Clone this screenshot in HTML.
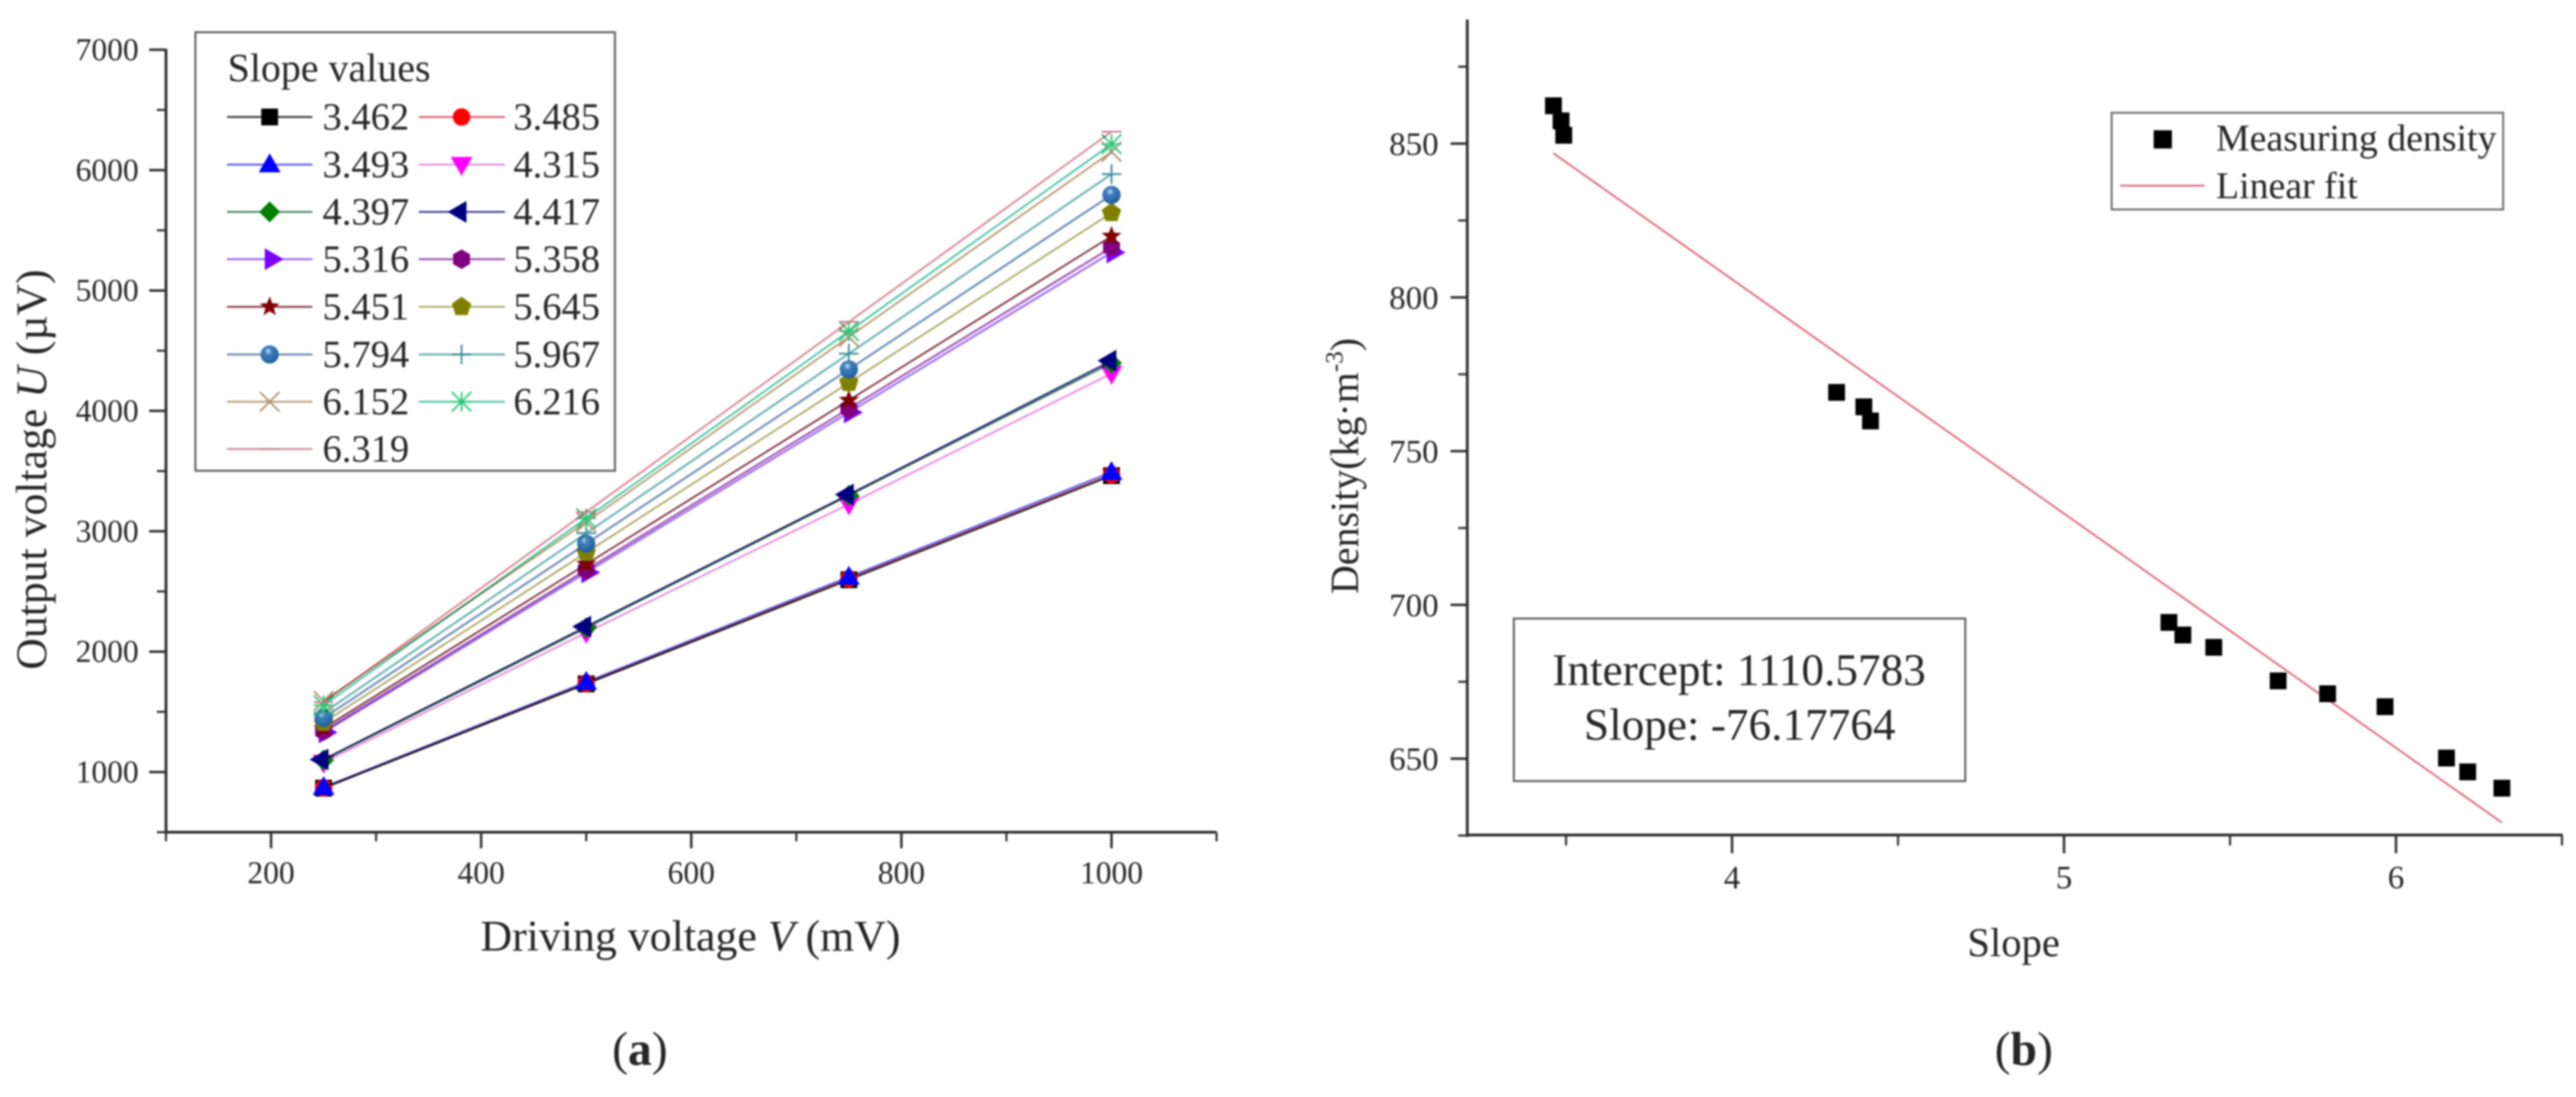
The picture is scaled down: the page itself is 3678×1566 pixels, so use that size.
<!DOCTYPE html>
<html lang="en">
<head>
<meta charset="utf-8">
<title>Output voltage and density charts</title>
<style>
html,body{margin:0;padding:0;background:#fff;width:3678px;height:1566px;overflow:hidden}
svg{display:block;filter:blur(1.2px)}
text{font-family:"Liberation Serif","Times New Roman",serif;fill:#262626}
polyline{mix-blend-mode:multiply}
</style>
</head>
<body>
<svg id="figure" xmlns="http://www.w3.org/2000/svg" width="3678" height="1566" viewBox="0 0 3678 1566">
  <defs>
    <radialGradient id="sphere-fill" cx="0.42" cy="0.32" r="0.7">
      <stop offset="0" stop-color="#cfe2f5"/>
      <stop offset="0.28" stop-color="#3f80c0"/>
      <stop offset="1" stop-color="#205a98"/>
    </radialGradient>
  </defs>
  <rect x="0" y="0" width="3678" height="1566" fill="#fff"/>

  <g id="panel-a">
    <rect x="279" y="46" width="599" height="626" fill="#fff" stroke="#666" stroke-width="3"/>
    <text x="325" y="116" font-size="57">Slope values</text>
    <text transform="translate(66,956) rotate(-90)" font-size="62.4">Output voltage <tspan font-style="italic">U</tspan> (µV)</text>
    <text x="686" y="1357" font-size="62.6">Driving voltage <tspan font-style="italic">V</tspan> (mV)</text>
    <text x="874" y="1520" font-size="68" fill="#111">(<tspan font-weight="bold">a</tspan>)</text>
  </g>

  <g id="panel-b">
    <rect x="3015" y="161" width="559" height="138" fill="#fff" stroke="#777" stroke-width="3"/>
    <text x="3164" y="215" font-size="54">Measuring density</text>
    <text x="3164" y="283" font-size="54">Linear fit</text>
    <rect x="2161.5" y="883" width="644.5" height="232" fill="#fff" stroke="#666" stroke-width="3"/>
    <text x="2483" y="978" font-size="64.6" text-anchor="middle">Intercept: 1110.5783</text>
    <text x="2484" y="1056" font-size="64.6" text-anchor="middle">Slope: -76.17764</text>
    <text transform="translate(1939,848) rotate(-90)" font-size="57">Density(kg·m<tspan font-size="36" dy="-22">-3</tspan><tspan dy="22">)</tspan></text>
    <text x="2809" y="1365" font-size="58">Slope</text>
    <text x="2848" y="1520" font-size="68" fill="#111">(<tspan font-weight="bold">b</tspan>)</text>
  </g>
</svg>

<script>
// ---------- Panel (a) data ----------
const driveVoltages = [250, 500, 750, 1000];
const slopeLabels = ['3.462','3.485','3.493','4.315','4.397','4.417','5.316','5.358','5.451','5.645','5.794','5.967','6.152','6.216','6.319'];
const s3462 = [866, 1732, 2597, 3462];
const s3485 = [868, 1738, 2606, 3470];
const s3493 = [873, 1747, 2620, 3490];
const s4315 = [1079, 2158, 3225, 4310];
const s4397 = [1099, 2198, 3298, 4397];
const s4417 = [1104, 2208, 3305, 4417];
const s5316 = [1329, 2658, 3987, 5316];
const s5358 = [1340, 2679, 4018, 5358];
const s5451 = [1363, 2726, 4088, 5451];
const s5645 = [1411, 2823, 4234, 5645];
const s5794 = [1449, 2897, 4345, 5794];
const s5967 = [1492, 2984, 4475, 5967];
const s6152 = [1590, 3076, 4614, 6152];
const s6216 = [1554, 3108, 4662, 6216];
const s6319 = [1580, 3160, 4739, 6319];
const seriesValues = [s3462,s3485,s3493,s4315,s4397,s4417,s5316,s5358,s5451,s5645,s5794,s5967,s6152,s6216,s6319];
const xMajorA = [200, 400, 600, 800, 1000];
const xMinorA = [100, 300, 500, 700, 900, 1100];
const yMajorA = [1000, 2000, 3000, 4000, 5000, 6000, 7000];
const yMinorA = [500, 1500, 2500, 3500, 4500, 5500, 6500];

// ---------- Panel (b) data ----------
const slopeValues = [3.462,3.485,3.493,4.315,4.397,4.417,5.316,5.358,5.451,5.645,5.794,5.967,6.152,6.216,6.319];
const densityValues = [862.3,857.4,852.7,769.1,764.4,759.8,694.3,690.2,686.2,675.3,671.1,666.9,650.2,645.7,640.4];
const fitIntercept = 1110.5783;
const fitSlope = -76.17764;
const xMajorB = [4, 5, 6];
const xMinorB = [3.5, 4.5, 5.5, 6.5];
const yMajorB = [650, 700, 750, 800, 850];
const yMinorB = [625, 675, 725, 775, 825, 875];

// ---------- Styles ----------
const lineColors = ['#2a2a2a','#e0506a','#6a6ae8','#e488e0','#3f7f5f','#33338c','#a070f4','#a45cb4','#803040','#a8a860','#7090b8','#70b4b4','#b89870','#40c4a0','#d88090'];
const lineWidths = [2.5,2.5,3,2.5,2.5,2.5,3,3,2.5,2.5,3,3,2.5,2.5,2.5];
const markerKinds = ['square','circle','triUp','triDown','diamond','triLeft','triRight','hexagon','star','pentagon','sphere','plus','cross','asterisk','bar'];
const markerColors = ['#000','#f00','#0000ff','#ff00ff','#008000','#000080','#7a00ff','#800080','#800000','#808000','url(#sphere-fill)','#3a8a9a','#b09070','#30c878','#c08090'];

// ---------- Scales ----------
function ax(v){ return 237 + (v - 100) * 1.5; }
function ay(v){ return 1188 - (v - 500) * (1117 / 6500); }
function bx(v){ return 2473 + (v - 4) * 474; }
function by(v){ return 205 + (850 - v) * 4.39; }

const NS = 'http://www.w3.org/2000/svg';
function make(tag, attrs, parent){
  const el = document.createElementNS(NS, tag);
  for (const k in attrs) el.setAttribute(k, attrs[k]);
  parent.appendChild(el);
  return el;
}
function polygon(cx, cy, r, n, startDeg, inner){
  let d = '';
  const count = inner ? n * 2 : n;
  for (let i = 0; i < count; i++){
    const rad = (inner && i % 2) ? r * inner : r;
    const a = (startDeg + i * 360 / count) * Math.PI / 180;
    d += (i ? 'L' : 'M') + (cx + rad * Math.cos(a)).toFixed(1) + ' ' + (cy + rad * Math.sin(a)).toFixed(1);
  }
  return d + 'Z';
}
function markerPath(kind, c, y){
  const r = 12;
  switch (kind){
    case 'square': return 'M'+(c-r)+' '+(y-r)+'h'+(2*r)+'v'+(2*r)+'h'+(-2*r)+'Z';
    case 'circle':
    case 'sphere': {
      const q = kind === 'sphere' ? 13 : 12.5;
      return 'M'+(c-q)+' '+y+'a'+q+' '+q+' 0 1 0 '+(2*q)+' 0a'+q+' '+q+' 0 1 0 '+(-2*q)+' 0Z';
    }
    case 'triUp': return polygon(c, y+2, 18, 3, -90);
    case 'triDown': return polygon(c, y-2, 18, 3, 90);
    case 'triLeft': return polygon(c-2, y, 18, 3, 180);
    case 'triRight': return polygon(c+2, y, 18, 3, 0);
    case 'diamond': return polygon(c, y, 15, 4, -90);
    case 'hexagon': return polygon(c, y, 14, 6, -90);
    case 'pentagon': return polygon(c, y, 14.5, 5, -90);
    case 'star': return polygon(c, y, 15, 5, -90, 0.42);
    default: return '';
  }
}
function strokeMarker(kind, c, y, color, parent){
  const r = 14;
  let d = '';
  if (kind === 'plus') d = 'M'+(c-r)+' '+y+'H'+(c+r)+'M'+c+' '+(y-r)+'V'+(y+r);
  if (kind === 'cross') d = 'M'+(c-r)+' '+(y-r)+'L'+(c+r)+' '+(y+r)+'M'+(c+r)+' '+(y-r)+'L'+(c-r)+' '+(y+r);
  if (kind === 'asterisk') d = 'M'+(c-r)+' '+(y-r)+'L'+(c+r)+' '+(y+r)+'M'+(c+r)+' '+(y-r)+'L'+(c-r)+' '+(y+r)+'M'+c+' '+(y-r)+'V'+(y+r)+'M'+(c-r)+' '+y+'H'+(c+r);
  if (kind === 'bar') d = 'M'+(c-r)+' '+y+'H'+(c+r);
  return make('path', {d:d, fill:'none', stroke:color, 'stroke-width':2.5}, parent);
}
function drawMarker(i, c, y, parent){
  const kind = markerKinds[i];
  if (kind === 'plus' || kind === 'cross' || kind === 'asterisk' || kind === 'bar'){
    return strokeMarker(kind, c, y, markerColors[i], parent);
  }
  return make('path', {d:markerPath(kind, c, y), fill:markerColors[i]}, parent);
}
function axisSegment(x1, y1, x2, y2, w, parent){
  return make('line', {x1:x1, y1:y1, x2:x2, y2:y2, stroke:'#2e2e2e', 'stroke-width':w}, parent);
}

const panelA = document.getElementById('panel-a');
const panelB = document.getElementById('panel-b');

// ---------- Panel (a): axes ----------
const axisYA = axisSegment(ax(100), ay(7000)-1, ax(100), ay(500)+2, 4, panelA);


const axisXA = axisSegment(ax(100), ay(500), ax(1100), ay(500), 4, panelA);



yMajorA.forEach(function(v){
  const t = axisSegment(ax(100)-24, ay(v), ax(100), ay(v), 3.5, panelA);
  
  
  const l = make('text', {x:198, y:ay(v)+15, 'font-size':45, 'text-anchor':'end'}, panelA);
  l.textContent = String(v);
  
  
});
yMinorA.forEach(function(v){
  const t = axisSegment(ax(100)-13, ay(v), ax(100), ay(v), 3, panelA);
  
  
});
xMajorA.forEach(function(v){
  const t = axisSegment(ax(v), ay(500), ax(v), ay(500)+23, 3.5, panelA);
  
  
  const l = make('text', {x:ax(v), y:1261, 'font-size':45, 'text-anchor':'middle'}, panelA);
  l.textContent = String(v);
  
  
});
xMinorA.forEach(function(v){
  const t = axisSegment(ax(v), ay(500), ax(v), ay(500)+13, 3, panelA);
  
  
});

// ---------- Panel (a): series ----------
seriesValues.forEach(function(vals, i){
  const g = make('g', {}, panelA);
  
  
  const pts = vals.map(function(v, j){ return ax(driveVoltages[j]).toFixed(1) + ',' + ay(v).toFixed(1); }).join(' ');
  const pl = make('polyline', {points:pts, fill:'none', stroke:lineColors[i], 'stroke-width':lineWidths[i]}, g);
  
  
  vals.forEach(function(v, j){
    const m = drawMarker(i, ax(driveVoltages[j]), ay(v), g);
    
    
  });
});

// ---------- Panel (a): legend ----------
const rowYs = [167, 235, 302.5, 370, 438, 506, 573.5, 641];
slopeLabels.forEach(function(label, i){
  const col = i % 2;
  const row = Math.floor(i / 2);
  const x0 = col ? 598 : 324;
  const x1 = col ? 721 : 446;
  const mid = col ? 659 : 385;
  const tx = col ? 733 : 460.5;
  const y = rowYs[row];
  const g = make('g', {}, panelA);
  
  
  const ln = make('line', {x1:x0, y1:y, x2:x1, y2:y, stroke:lineColors[i], 'stroke-width':lineWidths[i]}, g);
  
  
  const mk = drawMarker(i, mid, y, g);
  
  
  const t = make('text', {x:tx, y:y+18, 'font-size':55}, g);
  t.textContent = label;
  
  
});

// ---------- Panel (b): axes ----------
const axisYB = axisSegment(bx(3.2025), 28, bx(3.2025), by(625)+2, 4, panelB);


const axisXB = axisSegment(bx(3.2025), 1192, bx(6.5)+1, 1192, 4, panelB);



yMajorB.forEach(function(v){
  const t = axisSegment(2071, by(v), 2095, by(v), 3.5, panelB);
  
  
  const l = make('text', {x:2054, y:by(v)+16, 'font-size':47, 'text-anchor':'end'}, panelB);
  l.textContent = String(v);
  
  
});
yMinorB.forEach(function(v){
  const t = axisSegment(2082, by(v), 2095, by(v), 3, panelB);
  
  
});
xMajorB.forEach(function(v){
  const t = axisSegment(bx(v), 1192, bx(v), 1218, 3.5, panelB);
  
  
  const l = make('text', {x:bx(v), y:1268, 'font-size':47, 'text-anchor':'middle'}, panelB);
  l.textContent = String(v);
  
  
});
xMinorB.forEach(function(v){
  const t = axisSegment(bx(v), 1192, bx(v), 1207, 3, panelB);
  
  
});

// ---------- Panel (b): fit line and points ----------
const firstSlope = slopeValues[0];
const lastSlope = slopeValues[slopeValues.length - 1];
const fitLine = make('line', {
  x1:bx(firstSlope), y1:by(fitIntercept + fitSlope * firstSlope),
  x2:bx(lastSlope), y2:by(fitIntercept + fitSlope * lastSlope),
  stroke:'#e0607a', 'stroke-width':2.5
}, panelB);



slopeValues.forEach(function(s, i){
  const size = 24;
  const p = make('rect', {x:bx(s)-size/2, y:by(densityValues[i])-size/2, width:size, height:size, fill:'#000'}, panelB);
  
  
});

// ---------- Panel (b): legend symbols ----------
const legendSquare = make('rect', {x:3075, y:186, width:26, height:26, fill:'#000'}, panelB);


const legendFit = make('line', {x1:3027, y1:265, x2:3148, y2:265, stroke:'#e0607a', 'stroke-width':2.5}, panelB);


</script>
</body>
</html>
